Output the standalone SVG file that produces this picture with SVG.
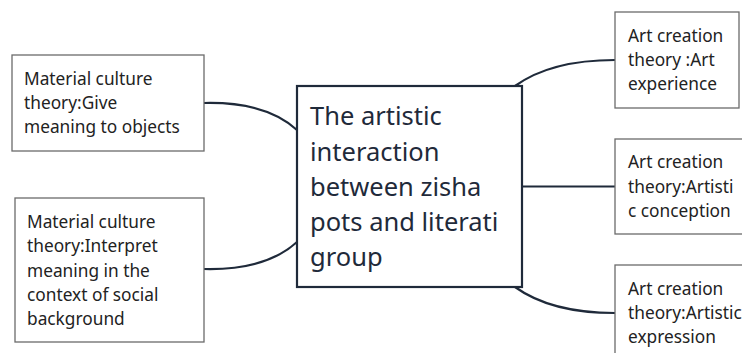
<svg xmlns="http://www.w3.org/2000/svg" width="742" height="353" viewBox="0 0 742 353">
<style>
.box{fill:#fff;stroke:#6b6b6b;stroke-width:1.3}
.main{fill:#fff;stroke:#1f2a3a;stroke-width:2.2}
.t{font-family:"Noto Sans","Open Sans",sans-serif;font-size:17.3px;fill:#222}
.big{font-family:"Noto Sans","Open Sans",sans-serif;font-size:25.5px;fill:#1f2a3a}
.c{fill:none;stroke:#1f2a3a;stroke-width:2.2}
</style>
<rect width="742" height="353" fill="#fff"/>
<g id="connectors">
<path class="c" d="M204,103 C245,102 275,110 297,130"/>
<path class="c" d="M204,269 C245,270 275,262 297,242"/>
<path class="c" d="M515,86 C540,68 575,60 615,60"/>
<path class="c" d="M522,186.5 L615,186.5"/>
<path class="c" d="M515,287 C540,305 575,313 615,313"/>
</g>
<g id="main">
<rect class="main" x="297" y="86" width="225" height="201"/>
<text class="big" x="310" y="125">The artistic</text>
<text class="big" x="310" y="160.5">interaction</text>
<text class="big" x="310" y="195.5">between zisha</text>
<text class="big" x="310" y="231">pots and literati</text>
<text class="big" x="310" y="266">group</text>
</g>
<g id="left1">
<rect class="box" x="12" y="55" width="192" height="96"/>
<text class="t" x="24" y="85">Material culture</text>
<text class="t" x="24" y="109">theory:Give</text>
<text class="t" x="24" y="133">meaning to objects</text>
</g>
<g id="left2">
<rect class="box" x="15" y="198" width="189" height="144"/>
<text class="t" x="27" y="228">Material culture</text>
<text class="t" x="27" y="252">theory:Interpret</text>
<text class="t" x="27" y="276.5">meaning in the</text>
<text class="t" x="27" y="300.5">context of social</text>
<text class="t" x="27" y="324.5">background</text>
</g>
<g id="right1">
<rect class="box" x="615" y="12" width="124" height="96"/>
<text class="t" x="628" y="41.5">Art creation</text>
<text class="t" x="628" y="66">theory :Art</text>
<text class="t" x="628" y="90">experience</text>
</g>
<g id="right2">
<rect class="box" x="615" y="139" width="130" height="95"/>
<text class="t" x="628" y="168">Art creation</text>
<text class="t" x="628" y="192.5">theory:Artisti</text>
<text class="t" x="628" y="217">c conception</text>
</g>
<g id="right3">
<rect class="box" x="615" y="265" width="140" height="100"/>
<text class="t" x="628" y="295">Art creation</text>
<text class="t" x="628" y="319">theory:Artistic</text>
<text class="t" x="628" y="343">expression</text>
</g>
</svg>
